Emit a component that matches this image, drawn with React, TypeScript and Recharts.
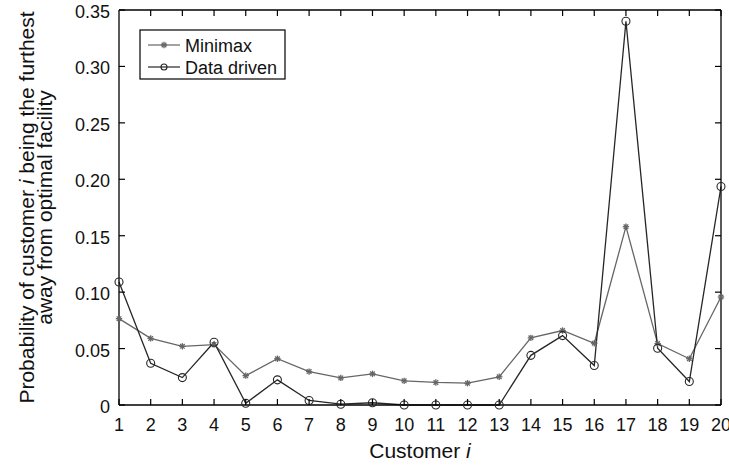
import { Line, LineChart, XAxis, YAxis } from "recharts";

const customers = [1, 2, 3, 4, 5, 6, 7, 8, 9, 10, 11, 12, 13, 14, 15, 16, 17, 18, 19, 20];
const minimax = [
  0.0765, 0.059, 0.052, 0.0535, 0.026, 0.041, 0.0296, 0.024, 0.0276, 0.0214,
  0.02, 0.0193, 0.025, 0.0595, 0.066, 0.0547, 0.158, 0.0544, 0.041, 0.0957,
];
const dataDriven = [
  0.109, 0.037, 0.0243, 0.0556, 0.0016, 0.0223, 0.004, 0.0007, 0.002, 0,
  0, 0, 0, 0.044, 0.0615, 0.035, 0.34, 0.0503, 0.0208, 0.1936,
];
const yTicks = [0, 0.05, 0.1, 0.15, 0.2, 0.25, 0.3, 0.35];
const seriesNames = ["Minimax", "Data driven"];

const FONT = '"Liberation Sans", Arial, Helvetica, sans-serif';
const TEXT = "#111";
const GREY = "#666";
const DARK = "#262626";
const TICK_LEN = 6;
const TICK_FONT = 18;
const TITLE_FONT = 21;

const rows = customers.map((c, i) => ({ c, minimax: minimax[i], dataDriven: dataDriven[i] }));

const fmtY = (v: number) => (v === 0 ? "0" : v.toFixed(2));

function Star({ cx, cy, color }: { cx: number; cy: number; color: string }) {
  const r = 3.2;
  const d = r * 0.72;
  return (
    <g stroke={color} strokeWidth={1.3}>
      <line x1={cx - r} y1={cy} x2={cx + r} y2={cy} />
      <line x1={cx} y1={cy - r} x2={cx} y2={cy + r} />
      <line x1={cx - d} y1={cy - d} x2={cx + d} y2={cy + d} />
      <line x1={cx - d} y1={cy + d} x2={cx + d} y2={cy - d} />
    </g>
  );
}

function StarDot(props: any) {
  const { cx, cy, index } = props;
  if (cx == null || cy == null) return null;
  return <Star key={`s${index}`} cx={cx} cy={cy} color={GREY} />;
}

function CircleDot(props: any) {
  const { cx, cy, index } = props;
  if (cx == null || cy == null) return null;
  return <circle key={`c${index}`} cx={cx} cy={cy} r={4} fill="none" stroke={DARK} strokeWidth={1.1} />;
}

// bottom axis: inward tick + number below
function BottomTick({ x, y, payload }: any) {
  return (
    <g>
      <line x1={x} y1={y} x2={x} y2={y - TICK_LEN} stroke="#000" strokeWidth={1.2} />
      <text x={x} y={y + 26} textAnchor="middle" fontFamily={FONT} fontSize={TICK_FONT} fill={TEXT}>
        {payload.value}
      </text>
    </g>
  );
}

function TopTick({ x, y }: any) {
  return <line x1={x} y1={y} x2={x} y2={y + TICK_LEN} stroke="#000" strokeWidth={1.2} />;
}

function LeftTick({ x, y, payload }: any) {
  return (
    <g>
      <line x1={x} y1={y} x2={x + TICK_LEN} y2={y} stroke="#000" strokeWidth={1.2} />
      <text x={x - 9} y={y + 8} textAnchor="end" fontFamily={FONT} fontSize={TICK_FONT} fill={TEXT}>
        {fmtY(payload.value)}
      </text>
    </g>
  );
}

function RightTick({ x, y }: any) {
  return <line x1={x} y1={y} x2={x - TICK_LEN} y2={y} stroke="#000" strokeWidth={1.2} />;
}

function XTitle({ viewBox }: any) {
  const cx = viewBox.x + viewBox.width / 2;
  return (
    <text x={cx} y={458} textAnchor="middle" fontFamily={FONT} fontSize={TITLE_FONT} fill={TEXT}>
      Customer <tspan fontStyle="italic">i</tspan>
    </text>
  );
}

function YTitle({ viewBox }: any) {
  const cy = viewBox.y + viewBox.height / 2;
  return (
    <g fontFamily={FONT} fontSize={TITLE_FONT} fill={TEXT} textAnchor="middle">
      <text x={34} y={cy} transform={`rotate(-90, 34, ${cy})`}>
        Probability of customer <tspan fontStyle="italic">i</tspan> being the furthest
      </text>
      <text x={52} y={cy} transform={`rotate(-90, 52, ${cy})`}>
        away from optimal facility
      </text>
    </g>
  );
}

function LegendBox() {
  const left = 140;
  const top = 30;
  const items = [
    { name: seriesNames[0], y: top + 15, marker: "star" },
    { name: seriesNames[1], y: top + 37, marker: "circle" },
  ];
  return (
    <g>
      <rect x={left} y={top} width={145} height={49} fill="#fff" stroke="#000" strokeWidth={1.2} />
      {items.map((it) => (
        <g key={it.name}>
          <line
            x1={left + 8}
            y1={it.y}
            x2={left + 40}
            y2={it.y}
            stroke={it.marker === "star" ? GREY : DARK}
            strokeWidth={1.2}
          />
          {it.marker === "star" ? (
            <Star cx={left + 24} cy={it.y} color={GREY} />
          ) : (
            <circle cx={left + 24} cy={it.y} r={3} fill="none" stroke={DARK} strokeWidth={1.1} />
          )}
          <text x={left + 45} y={it.y + 6.5} fontFamily={FONT} fontSize={TICK_FONT} fill={TEXT}>
            {it.name}
          </text>
        </g>
      ))}
    </g>
  );
}

export default function App() {
  return (
    <div style={{ position: "absolute", left: 0, top: 0, background: "#fff" }}>
      <LineChart width={729} height={465} data={rows} margin={{ top: 9, right: 7, bottom: 0, left: 0 }}>
        <XAxis
          dataKey="c"
          type="number"
          domain={[1, 20]}
          ticks={customers}
          interval={0}
          height={60}
          tickSize={0}
          tickMargin={0}
          tickLine={false}
          axisLine={{ stroke: "#000", strokeWidth: 1.3 }}
          tick={<BottomTick />}
          label={{ content: <XTitle /> }}
        />
        <XAxis
          xAxisId="top"
          orientation="top"
          type="number"
          domain={[1, 20]}
          ticks={customers}
          interval={0}
          allowDataOverflow
          height={1}
          tickSize={0}
          tickMargin={0}
          tickLine={false}
          axisLine={{ stroke: "#000", strokeWidth: 1.3 }}
          tick={<TopTick />}
        />
        <YAxis
          type="number"
          domain={[0, 0.35]}
          ticks={yTicks}
          interval={0}
          width={119}
          tickSize={0}
          tickMargin={0}
          tickLine={false}
          axisLine={{ stroke: "#000", strokeWidth: 1.3 }}
          tick={<LeftTick />}
          label={{ content: <YTitle /> }}
        />
        <YAxis
          yAxisId="right"
          orientation="right"
          type="number"
          domain={[0, 0.35]}
          ticks={yTicks}
          interval={0}
          allowDataOverflow
          width={1}
          tickSize={0}
          tickMargin={0}
          tickLine={false}
          axisLine={{ stroke: "#000", strokeWidth: 1.3 }}
          tick={<RightTick />}
        />
        <Line
          dataKey="minimax"
          name={seriesNames[0]}
          type="linear"
          stroke={GREY}
          strokeWidth={1.3}
          dot={<StarDot />}
          isAnimationActive={false}
        />
        <Line
          dataKey="dataDriven"
          name={seriesNames[1]}
          type="linear"
          stroke={DARK}
          strokeWidth={1.3}
          dot={<CircleDot />}
          isAnimationActive={false}
        />
        <LegendBox />
      </LineChart>
    </div>
  );
}
